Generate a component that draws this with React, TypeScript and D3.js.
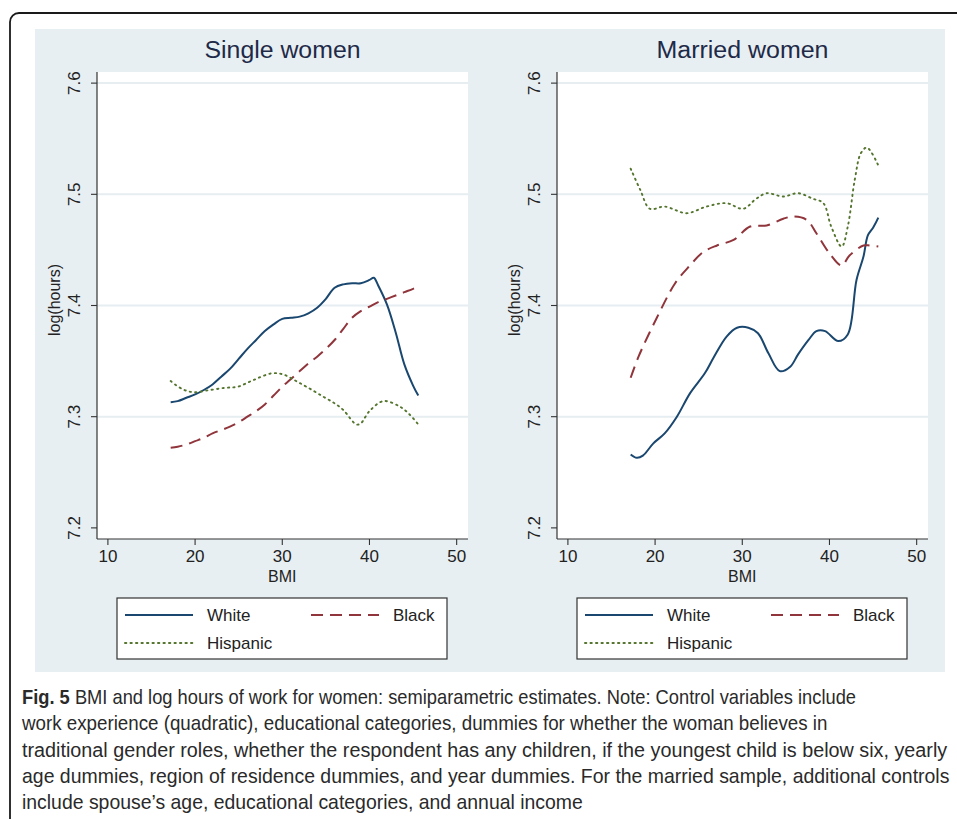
import React, { useLayoutEffect, useRef, useState } from "react";
import * as d3 from "d3";

// ---------- data ----------
const panelTitles = ["Single women", "Married women"];
const seriesNames = ["White", "Black", "Hispanic"];
const xTicks = [10, 20, 30, 40, 50];
const yTicks = [7.2, 7.3, 7.4, 7.5, 7.6];
const gridValues = [7.3, 7.4, 7.5, 7.6];

const singleWhite: [number, number][] = [
  [17.2, 7.313], [18, 7.314], [19, 7.317], [20, 7.32], [21, 7.324], [22, 7.329],
  [23, 7.336], [24, 7.343], [25, 7.352], [26, 7.361], [27, 7.369], [28, 7.377],
  [29, 7.383], [30, 7.388], [31, 7.389], [32, 7.39], [33, 7.393], [34, 7.398],
  [35, 7.406], [36, 7.416], [37, 7.419], [38, 7.42], [39, 7.42], [40, 7.423],
  [40.5, 7.425], [41, 7.418], [42, 7.401], [43, 7.376], [44, 7.347], [45, 7.328], [45.6, 7.319],
];
const singleBlack: [number, number][] = [
  [17.2, 7.272], [18, 7.273], [19, 7.275], [20, 7.278], [21, 7.281], [22, 7.285],
  [23, 7.288], [24, 7.291], [25, 7.295], [26, 7.3], [27, 7.305], [28, 7.311],
  [29, 7.319], [30, 7.327], [31, 7.334], [32, 7.341], [33, 7.348], [34, 7.354],
  [35, 7.361], [36, 7.369], [37, 7.379], [38, 7.389], [39, 7.395], [40, 7.399],
  [41, 7.403], [42, 7.406], [43, 7.409], [44, 7.412], [45, 7.415], [45.6, 7.417],
];
const singleHispanic: [number, number][] = [
  [17.2, 7.332], [18.5, 7.325], [19.8, 7.322], [21.7, 7.324], [23.5, 7.326],
  [24.9, 7.327], [26.7, 7.333], [28.8, 7.339], [30.1, 7.338], [31.6, 7.332],
  [33.2, 7.325], [34.7, 7.318], [36, 7.312], [37, 7.306], [38.5, 7.293],
  [39, 7.294], [40, 7.305], [41.6, 7.314], [43.5, 7.309], [44.6, 7.302], [45.6, 7.293],
];
const marriedWhite: [number, number][] = [
  [17.2, 7.266], [17.9, 7.263], [18.6, 7.265], [19.8, 7.276], [21.1, 7.285],
  [22.5, 7.3], [24, 7.321], [25.7, 7.339], [26.7, 7.353], [28.2, 7.372],
  [29.4, 7.38], [30.7, 7.38], [31.8, 7.375], [33, 7.357], [34.3, 7.341],
  [35.5, 7.345], [36.4, 7.356], [37.6, 7.369], [38.5, 7.377], [39.5, 7.377],
  [41, 7.368], [42.1, 7.374], [43.1, 7.423], [43.9, 7.444], [44.4, 7.463],
  [45, 7.47], [45.6, 7.479],
];
const marriedBlack: [number, number][] = [
  [17.2, 7.335], [18.1, 7.354], [20.2, 7.389], [22.3, 7.42], [24, 7.436],
  [25.5, 7.448], [27.1, 7.454], [29, 7.459], [30.9, 7.471], [32.8, 7.472],
  [34.7, 7.478], [35.8, 7.48], [37.4, 7.477], [38.5, 7.465], [40, 7.447],
  [41.4, 7.436], [42.3, 7.445], [43.9, 7.454], [44.6, 7.454], [45.6, 7.453],
];
const marriedHispanic: [number, number][] = [
  [17.2, 7.523], [18.3, 7.504], [19.4, 7.487], [21.1, 7.489], [23.6, 7.483],
  [25.9, 7.489], [28.2, 7.492], [30.1, 7.487], [31.6, 7.496], [32.8, 7.501],
  [34.7, 7.498], [36.4, 7.501], [38.1, 7.496], [39.3, 7.492], [40.2, 7.471],
  [41.4, 7.453], [42.1, 7.471], [42.9, 7.513], [43.6, 7.537], [44.3, 7.542], [45.6, 7.526],
];

const captionLines = [
  "BMI and log hours of work for women: semiparametric estimates. Note: Control variables include",
  "work experience (quadratic), educational categories, dummies for whether the woman believes in",
  "traditional gender roles, whether the respondent has any children, if the youngest child is below six, yearly",
  "age dummies, region of residence dummies, and year dummies. For the married sample, additional controls",
  "include spouse\u2019s age, educational categories, and annual income",
];
const captionWidths = [835, 806, 926, 928, 561];
const titleWidths = [156, 172];

// ---------- styles ----------
const colors = ["#1a476f", "#90353b", "#55752f"];
const dashes = ["", "12 7", "1.3 4.2"];
const widths = [2, 2, 1.9];
const font = "'Liberation Sans', Arial, sans-serif";

const panels = [
  [singleWhite, singleBlack, singleHispanic],
  [marriedWhite, marriedBlack, marriedHispanic],
];

function Panel({ idx, x0 }: { idx: number; x0: number }) {
  const left = x0;
  const right = x0 + 371;
  const top = 72;
  const bottom = 539;
  const x = d3.scaleLinear().domain([8.75, 51.3]).range([left, right]);
  const y = d3.scaleLinear().domain([7.19, 7.61]).range([bottom, top]);
  const line = d3
    .line<[number, number]>()
    .x((d) => x(d[0]))
    .y((d) => y(d[1]))
    .curve(d3.curveCatmullRom.alpha(0.5));
  const cx = (left + right) / 2;
  const legL = left + 20;
  return (
    <g>
      <text
        x={cx}
        y={58}
        textAnchor="middle"
        fontSize={23.5}
        fill="#1e2a48"
        fontFamily={font}
        textLength={titleWidths[idx]}
        lengthAdjust="spacingAndGlyphs"
      >
        {panelTitles[idx]}
      </text>
      <rect x={left} y={top} width={right - left} height={bottom - top} fill="#fff" />
      {gridValues.map((v) => (
        <line key={v} x1={left} x2={right} y1={y(v)} y2={y(v)} stroke="#e6eef1" strokeWidth={2} />
      ))}
      {panels[idx].map((s, i) => (
        <path
          key={i}
          d={line(s) || ""}
          fill="none"
          stroke={colors[i]}
          strokeWidth={widths[i]}
          strokeDasharray={dashes[i]}
          strokeLinecap={i === 2 ? "round" : "butt"}
        />
      ))}
      <line x1={left} x2={left} y1={top} y2={bottom} stroke="#333" strokeWidth={1.2} />
      <line x1={left} x2={right} y1={bottom} y2={bottom} stroke="#333" strokeWidth={1.2} />
      {yTicks.map((v) => (
        <g key={v}>
          <line x1={left - 6} x2={left} y1={y(v)} y2={y(v)} stroke="#333" strokeWidth={1.1} />
          <text
            transform={`translate(${left - 17},${y(v)}) rotate(-90)`}
            textAnchor="middle"
            fontSize={17}
            fill="#222"
            fontFamily={font}
          >
            {v.toFixed(1)}
          </text>
        </g>
      ))}
      <text
        transform={`translate(${left - 37},${300}) rotate(-90)`}
        textAnchor="middle"
        fontSize={16}
        fill="#222"
        fontFamily={font}
      >
        log(hours)
      </text>
      {xTicks.map((v) => (
        <g key={v}>
          <line x1={x(v)} x2={x(v)} y1={bottom} y2={bottom + 6} stroke="#333" strokeWidth={1.1} />
          <text x={x(v)} y={562} textAnchor="middle" fontSize={17} fill="#222" fontFamily={font}>
            {v}
          </text>
        </g>
      ))}
      <text x={x(30)} y={582} textAnchor="middle" fontSize={16} fill="#222" fontFamily={font}>
        BMI
      </text>
      {/* legend */}
      <rect x={legL} y={598} width={330} height={61} fill="#fff" stroke="#333" strokeWidth={1.2} />
      {[0, 1, 2].map((i) => {
        const lx = legL + (i === 1 ? 194 : 8);
        const ly = i === 2 ? 643 : 615;
        return (
          <g key={i}>
            <line
              x1={lx}
              x2={lx + 68}
              y1={ly}
              y2={ly}
              stroke={colors[i]}
              strokeWidth={2}
              strokeDasharray={dashes[i]}
              strokeLinecap={i === 2 ? "round" : "butt"}
            />
            <text x={lx + 82} y={ly + 6} fontSize={17} fill="#222" fontFamily={font}>
              {seriesNames[i]}
            </text>
          </g>
        );
      })}
    </g>
  );
}

function CaptionLine({ i }: { i: number }) {
  const ref = useRef<SVGTextElement>(null);
  const [sx, setSx] = useState(1);
  useLayoutEffect(() => {
    if (ref.current) {
      const w = ref.current.getComputedTextLength();
      if (w > 0) setSx(captionWidths[i] / w);
    }
  }, [i]);
  const t = captionLines[i];
  return (
    <text
      ref={ref}
      transform={`translate(22,${704 + i * 26.3}) scale(${sx},1)`}
      fontSize={20}
      fill="#2a2a2a"
      fontFamily="'Liberation Sans Narrow', 'Liberation Sans', Arial, sans-serif"
    >
      {i === 0 ? (
        <>
          <tspan fontWeight="bold">Fig. 5</tspan> {t}
        </>
      ) : (
        t
      )}
    </text>
  );
}

export default function App() {
  return (
    <svg
      width={957}
      height={819}
      style={{ position: "absolute", left: 0, top: 0, background: "#fff" }}
    >
      <rect x={10} y={13} width={1000} height={900} rx={9} fill="#fff" stroke="#1a1a1a" strokeWidth={1.8} />
      <rect x={35} y={29} width={910} height={643} fill="#e8eff2" />
      <Panel idx={0} x0={97} />
      <Panel idx={1} x0={557} />
      {captionLines.map((_, i) => (
        <CaptionLine key={i} i={i} />
      ))}
    </svg>
  );
}
